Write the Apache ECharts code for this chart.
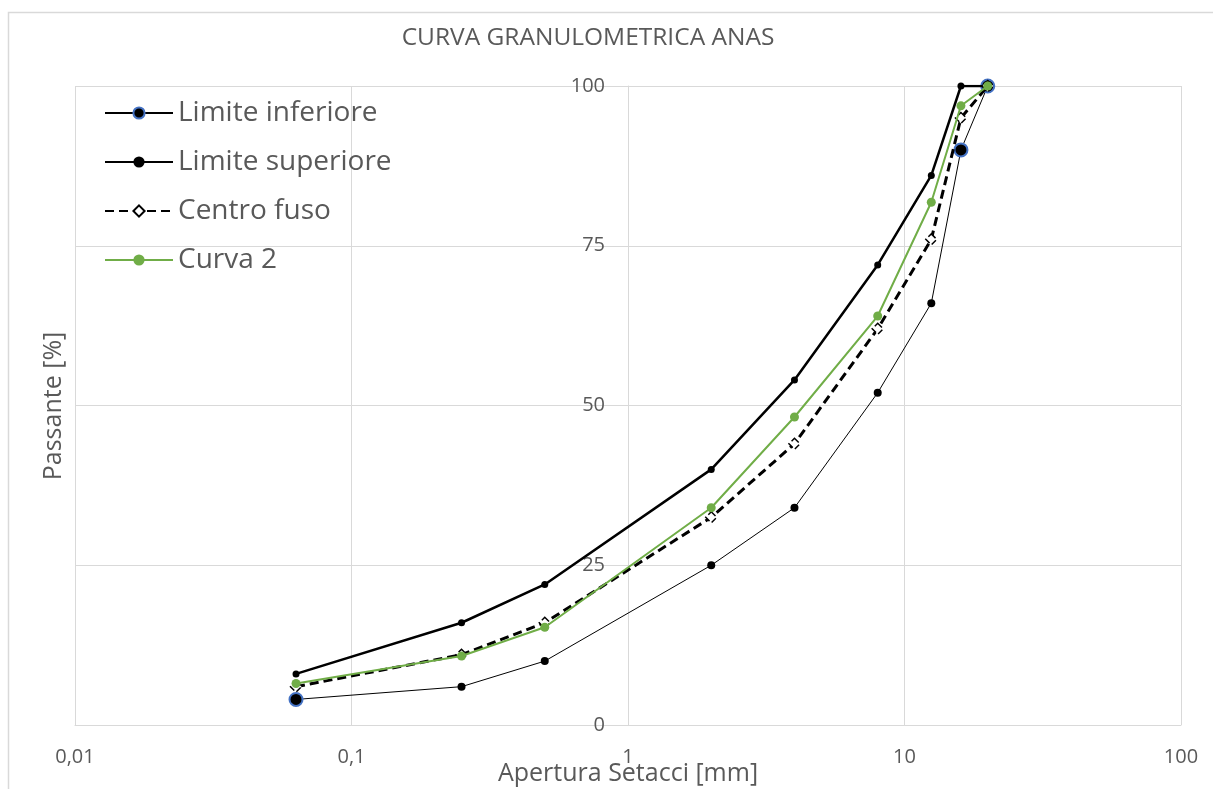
<!DOCTYPE html>
<html>
<head>
<meta charset="utf-8">
<script src="https://cdn.jsdelivr.net/npm/echarts@6/dist/echarts.min.js"></script>
<style>
  html, body { margin: 0; padding: 0; background: #fff; }
  #chart { width: 1213px; height: 789px; }
</style>
</head>
<body>
<div id="chart"></div>
<script>
// aperture dei setacci [mm]
const sieves = [0.063, 0.25, 0.5, 2, 4, 8, 12.5, 16, 20]
const limiteInferiore = [4, 6, 10, 25, 34, 52, 66, 90, 100]
const limiteSuperiore = [8, 16, 22, 40, 54, 72, 86, 100, 100]
const centroFuso = [6, 11, 16, 32.5, 44, 62, 76, 95, 100]
const curva2 = [6.5, 10.8, 15.3, 34, 48.2, 64, 81.8, 96.9, 100]
const yTicks = [0, 25, 50, 75, 100]

const FONT = 'Open Sans'
const TXT = '#595959'
const GRID = '#d9d9d9'

const pairs = (vals) => sieves.map((s, i) => [s, vals[i]])

// only some points of the lower limit have the big blue-rimmed marker
const bigInf = [0, 7, 8]
const infData = sieves.map((s, i) => {
  if (bigInf.includes(i)) return [s, limiteInferiore[i]]
  return { value: [s, limiteInferiore[i]], symbolSize: 8, itemStyle: { borderWidth: 0 } }
})

const chart = echarts.init(document.getElementById('chart'))

const option = {
  animation: false,
  textStyle: { fontFamily: FONT },
  title: {
    text: 'CURVA GRANULOMETRICA ANAS',
    left: 583,
    top: 21,
    textAlign: 'center',
    textStyle: { fontFamily: FONT, fontSize: 24.5, fontWeight: 'normal', color: TXT }
  },
  legend: {
    orient: 'vertical',
    left: 99,
    top: 94,
    itemWidth: 68,
    itemHeight: 14,
    itemGap: 21,
    textStyle: { fontFamily: FONT, fontSize: 28, color: TXT },
    data: ['Limite inferiore', 'Limite superiore', 'Centro fuso', 'Curva 2']
  },
  grid: { left: 75, right: 32, top: 86, bottom: 64, outerBoundsMode: 'none' },
  xAxis: {
    type: 'log',
    logBase: 10,
    min: 0.01,
    max: 100,
    name: 'Apertura Setacci [mm]',
    nameLocation: 'middle',
    nameGap: 36,
    nameMoveOverlap: false,
    nameTextStyle: { fontFamily: FONT, fontSize: 25, color: TXT },
    axisLine: { lineStyle: { color: GRID, width: 1 } },
    axisTick: { show: false },
    splitLine: { show: true, lineStyle: { color: GRID, width: 1 } },
    axisLabel: {
      margin: 22,
      fontSize: 20,
      color: TXT,
      formatter: (v) => String(v).replace('.', ',')
    }
  },
  yAxis: {
    type: 'value',
    min: 0,
    max: 100,
    interval: 25,
    offset: -553,
    axisLine: { show: true, lineStyle: { color: GRID } },
    axisTick: { show: false },
    splitLine: { lineStyle: { color: GRID, width: 1 } },
    axisLabel: {
      margin: 23,
      fontSize: 20,
      color: TXT,
      formatter: (v) => (yTicks.includes(v) ? String(v) : '')
    }
  },
  graphic: [
    {
      type: 'polyline',
      shape: { points: [[8.5, 800], [8.5, 12.5], [1220, 12.5]] },
      style: { stroke: '#d9d9d9', lineWidth: 1.5, fill: null },
      silent: true
    },
    {
      type: 'text',
      x: 54,
      y: 406,
      rotation: Math.PI / 2,
      style: {
        text: 'Passante [%]',
        fontFamily: FONT,
        fontSize: 25,
        fill: TXT,
        align: 'center',
        verticalAlign: 'middle'
      }
    }
  ],
  series: [
    {
      name: 'Limite inferiore',
      type: 'line',
      data: infData,
      symbol: 'circle',
      symbolSize: 13,
      lineStyle: { color: '#000', width: 1 },
      itemStyle: { color: '#000', borderColor: '#4472C4', borderWidth: 2 },
      z: 2
    },
    {
      name: 'Limite superiore',
      type: 'line',
      data: pairs(limiteSuperiore),
      symbol: 'circle',
      symbolSize: 7,
      lineStyle: { color: '#000', width: 2.5 },
      itemStyle: { color: '#000' },
      z: 3
    },
    {
      name: 'Centro fuso',
      type: 'line',
      data: pairs(centroFuso),
      symbol: 'diamond',
      symbolSize: 11,
      lineStyle: { color: '#000', width: 3, type: [9, 5] },
      itemStyle: { color: '#fff', borderColor: '#000', borderWidth: 1.5, borderType: 'dashed' },
      z: 4
    },
    {
      name: 'Curva 2',
      type: 'line',
      data: pairs(curva2),
      symbol: 'circle',
      symbolSize: 9,
      lineStyle: { color: '#70AD47', width: 2 },
      itemStyle: { color: '#70AD47' },
      z: 5
    }
  ]
}

chart.setOption(option)
</script>
</body>
</html>
